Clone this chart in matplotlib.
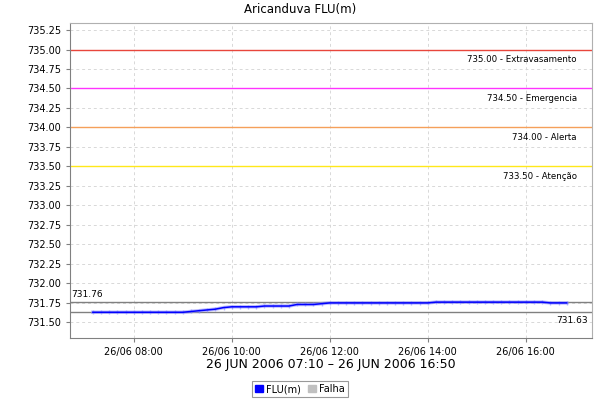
import matplotlib
matplotlib.use('Agg')
import matplotlib.pyplot as plt
import matplotlib.dates as mdates
from matplotlib.patches import Patch
import numpy as np
from datetime import datetime, timedelta

# 10-minute readings, 26 JUN 2006 07:10 - 16:50
start = datetime(2006, 6, 26, 7, 10)
times = [start + timedelta(minutes=10 * i) for i in range(59)]
flu = ([731.63] * 12 +
       [731.64, 731.65, 731.66, 731.67, 731.69, 731.70, 731.70, 731.70, 731.70,
        731.71, 731.71, 731.71, 731.71, 731.73, 731.73, 731.73, 731.74] +
       [731.75] * 13 + [731.76] * 14 + [731.75] * 3)

levels = [735.00, 734.50, 734.00, 733.50]
level_names = ['Extravasamento', 'Emergencia', 'Alerta', 'Atenção']
level_colors = ['#e8463c', '#ff33ff', '#f5a05a', '#ffe81a']
max_val = 731.76
min_val = 731.63

fig = plt.figure(figsize=(6, 4), dpi=100)
ax = fig.add_axes([70 / 600, 1 - 338 / 400, 522 / 600, 315 / 400])

for y, name, c in zip(levels, level_names, level_colors):
    ax.axhline(y, color=c, lw=1, zorder=2)
    ax.annotate('%.2f - %s' % (y, name), xy=(1, y), xycoords=('axes fraction', 'data'),
                xytext=(-11, -4), textcoords='offset points', ha='right', va='top',
                fontsize=6.2)

ax.axhline(max_val, color='#808080', lw=1, zorder=2)
ax.axhline(min_val, color='#808080', lw=1, zorder=2)
ax.annotate('%.2f' % max_val, xy=(0, max_val), xycoords=('axes fraction', 'data'),
            xytext=(1, 2), textcoords='offset points', ha='left', va='bottom', fontsize=6.5)
ax.annotate('%.2f' % min_val, xy=(1, min_val), xycoords=('axes fraction', 'data'),
            xytext=(-3, -3), textcoords='offset points', ha='right', va='top', fontsize=6.5)

ax.plot(times, flu, color='#8c8cff', lw=2.5, alpha=0.6, marker='|', ms=3, zorder=3)
ax.plot(times, flu, color='#0000ff', lw=1.1, zorder=4)

ax.set_ylim(731.30, 735.34)
ax.set_yticks(np.arange(731.50, 735.26, 0.25))
ax.yaxis.set_major_formatter(matplotlib.ticker.FormatStrFormatter('%.2f'))
ax.set_xlim(datetime(2006, 6, 26, 6, 42), datetime(2006, 6, 26, 17, 21))
ax.xaxis.set_major_locator(mdates.HourLocator(byhour=[8, 10, 12, 14, 16]))
ax.xaxis.set_major_formatter(mdates.DateFormatter('%d/%m %H:%M'))

ax.grid(True, color='#d8d8d8', ls=(0, (3, 3)), lw=0.7)
ax.tick_params(labelsize=7, length=3, color='#808080')
for s in ['left', 'bottom']:
    ax.spines[s].set_color('#808080')
for s in ['top', 'right']:
    ax.spines[s].set_color('#b0b0b0')

fig.text(0.5, 1 - 10 / 400, 'Aricanduva FLU(m)', fontsize=8.5, ha='center', va='center')
ax.set_xlabel('26 JUN 2006 07:10 – 26 JUN 2006 16:50', fontsize=9, labelpad=1)

handles = [Patch(facecolor='#0000ff', edgecolor='#0000ff'),
           Patch(facecolor='#c0c0c0', edgecolor='#c0c0c0')]
leg = fig.legend(handles, ['FLU(m)', 'Falha'], loc='center', bbox_to_anchor=(300 / 600, 1 - 389 / 400),
                 ncol=2, fontsize=7, frameon=True, fancybox=False, handlelength=0.8,
                 handleheight=0.8, handletextpad=0.3, columnspacing=0.8, borderpad=0.3)
leg.get_frame().set_edgecolor('#808080')
leg.get_frame().set_linewidth(0.8)

fig.savefig('out.png', dpi=100)
